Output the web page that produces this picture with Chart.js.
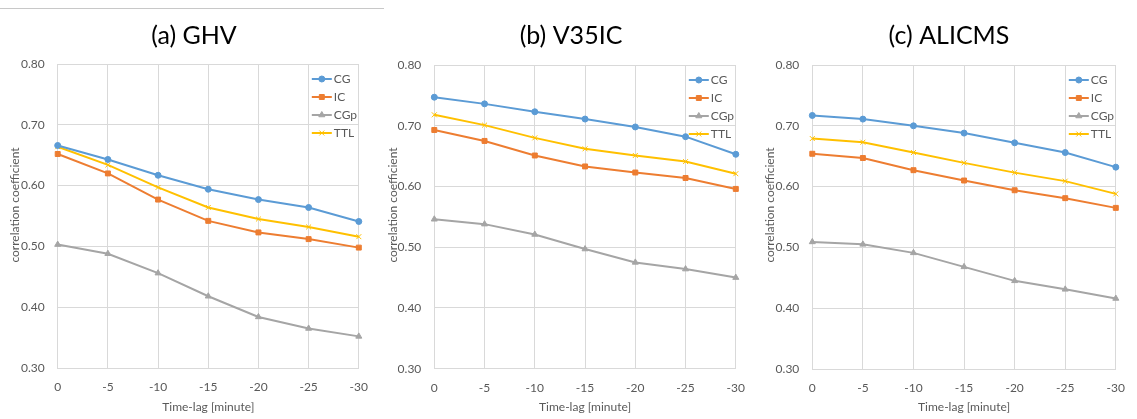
<!DOCTYPE html>
<html><head><meta charset="utf-8">
<script src="https://cdn.jsdelivr.net/npm/chart.js@4/dist/chart.umd.min.js"></script>
<style>
html,body{margin:0;padding:0;background:#fff;}
#wrap{position:relative;width:1137px;height:419px;overflow:hidden;background:#fff;}
canvas{position:absolute;top:0;}
#rule{position:absolute;left:0;top:8px;width:384px;height:1px;background:#c8c8c8;}
</style></head><body>
<div id="wrap">
<div id="rule"></div>
<canvas id="cA" style="left:0px;width:380px;height:419px" width="380" height="419"></canvas>
<canvas id="cB" style="left:380px;width:377px;height:419px" width="377" height="419"></canvas>
<canvas id="cC" style="left:757px;width:380px;height:419px" width="380" height="419"></canvas>
</div>
<script>
// ---- data ----
const timeLags = ['0','-5','-10','-15','-20','-25','-30'];
const seriesLabels = ['CG','IC','CGp','TTL'];
const panelTitles = ['(a) GHV','(b) V35IC','(c) ALICMS'];
const xAxisTitle = 'Time-lag [minute]';
const yAxisTitle = 'correlation coefficient';
const yMin = 0.30, yMax = 0.80, yStep = 0.10;

const ghvCG  = [0.666,0.643,0.617,0.594,0.577,0.564,0.541];
const ghvIC  = [0.652,0.620,0.577,0.542,0.523,0.512,0.498];
const ghvCGp = [0.503,0.488,0.456,0.418,0.384,0.365,0.352];
const ghvTTL = [0.664,0.634,0.597,0.564,0.545,0.532,0.516];

const v35CG  = [0.747,0.736,0.723,0.711,0.698,0.682,0.653];
const v35IC  = [0.693,0.675,0.651,0.633,0.623,0.614,0.596];
const v35CGp = [0.546,0.538,0.521,0.497,0.475,0.464,0.450];
const v35TTL = [0.718,0.701,0.680,0.662,0.651,0.641,0.621];

const aliCG  = [0.717,0.711,0.700,0.688,0.672,0.656,0.632];
const aliIC  = [0.654,0.647,0.627,0.610,0.594,0.581,0.565];
const aliCGp = [0.509,0.505,0.491,0.468,0.445,0.431,0.416];
const aliTTL = [0.679,0.673,0.656,0.639,0.623,0.609,0.588];

// ---- styles ----
const seriesColors = ['#5B9BD5','#ED7D31','#A5A5A5','#FFC000'];
const seriesPoints = ['circle','rect','triangle','crossRot'];
const seriesRadius = [3,3.5,3.5,3.5];
const textGray = '#595959';
const gridGray = '#d9d9d9';
Chart.defaults.font.family = 'Lato';

const panelDecor = {
  id: 'panelDecor',
  afterDraw(chart, args, opts) {
    const {ctx, chartArea} = chart;
    ctx.save();
    ctx.font = '12px Lato';
    ctx.fillStyle = textGray;
    ctx.translate(opts.yTitleX, opts.yTitleY);
    ctx.rotate(-Math.PI/2);
    ctx.textAlign = 'center';
    ctx.textBaseline = 'middle';
    ctx.fillText(opts.yTitle, 0, 0);
    ctx.restore();
    chart.data.datasets.forEach((ds, i) => {
      const y = chartArea.top + 15 + i * 18;
      const x0 = chartArea.right - 47;
      ctx.save();
      ctx.strokeStyle = ds.borderColor;
      ctx.lineWidth = ds.borderWidth;
      ctx.beginPath(); ctx.moveTo(x0, y); ctx.lineTo(x0 + 20, y); ctx.stroke();
      ctx.fillStyle = ds.pointBackgroundColor;
      ctx.strokeStyle = ds.pointBorderColor;
      ctx.lineWidth = ds.pointBorderWidth;
      Chart.helpers.drawPoint(ctx, {pointStyle: ds.pointStyle, radius: ds.pointRadius, rotation: 0, borderWidth: ds.pointBorderWidth}, x0 + 10, y);
      ctx.fillStyle = textGray;
      ctx.font = '12px Lato';
      ctx.textAlign = 'left';
      ctx.textBaseline = 'middle';
      ctx.fillText(ds.label, x0 + 22, y);
      ctx.restore();
    });
  }
};

function makeDatasets(values) {
  return values.map((v, i) => ({
    label: seriesLabels[i],
    data: v,
    borderColor: seriesColors[i],
    backgroundColor: seriesColors[i],
    pointBackgroundColor: seriesColors[i],
    pointBorderColor: seriesColors[i],
    pointBorderWidth: 1,
    borderWidth: 2,
    pointStyle: seriesPoints[i],
    pointRadius: seriesRadius[i],
    tension: 0,
    fill: false
  }));
}

function makeChart(id, title, values, g) {
  const tSize = 25, tLine = tSize * 1.2, tTop = 21;
  return new Chart(document.getElementById(id), {
    type: 'line',
    data: { labels: timeLags, datasets: makeDatasets(values) },
    plugins: [panelDecor],
    options: {
      responsive: false,
      animation: false,
      layout: { padding: { left: g.padL, right: g.padR, top: 0, bottom: 0 } },
      plugins: {
        legend: { display: false },
        tooltip: { enabled: false },
        title: {
          display: true, text: title, color: '#000',
          font: { family: 'Lato', size: tSize, weight: 'normal' },
          padding: { top: tTop, bottom: g.top - tTop - tLine }
        },
        panelDecor: { yTitle: yAxisTitle, yTitleX: g.yTX, yTitleY: 205 }
      },
      scales: {
        x: {
          type: 'category',
          offset: false,
          grid: { color: gridGray, drawTicks: false, offset: false },
          border: { color: gridGray },
          ticks: { color: textGray, font: { size: 12 }, padding: 12, maxRotation: 0, autoSkip: false },
          title: { display: true, text: xAxisTitle, color: textGray, font: { size: 12 }, padding: { top: 0, bottom: 5 } },
          afterFit: s => { s.height = g.xH; }
        },
        y: {
          min: yMin, max: yMax,
          grid: { color: gridGray, drawTicks: false },
          border: { color: gridGray },
          ticks: { stepSize: yStep, color: textGray, font: { size: 12 }, padding: 13, callback: v => Number(v).toFixed(2) },
          afterFit: s => { s.width = g.yW; }
        }
      }
    }
  });
}

makeChart('cA', panelTitles[0], [ghvCG, ghvIC, ghvCGp, ghvTTL], {padL: 20.3, padR: 12.3, yW: 37.4, top: 64, xH: 51, yTX: 15.5});
makeChart('cB', panelTitles[1], [v35CG, v35IC, v35CGp, v35TTL], {padL: 17.7, padR: 12.7, yW: 36.6, top: 65, xH: 50.3, yTX: 12.7});
makeChart('cC', panelTitles[2], [aliCG, aliIC, aliCGp, aliTTL], {padL: 18.3, padR: 14.3, yW: 37, top: 65, xH: 50, yTX: 13.3});
</script>
</body></html>
